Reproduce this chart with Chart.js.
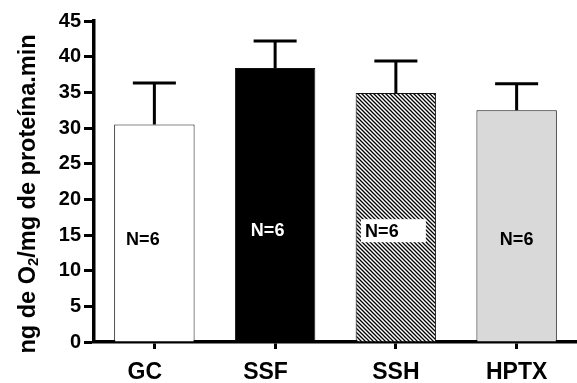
<!DOCTYPE html>
<html><head><meta charset="utf-8">
<script src="https://cdn.jsdelivr.net/npm/chart.js@4"></script>
<style>html,body{margin:0;padding:0;background:#fff}canvas{display:block}</style>
</head><body>
<canvas id="c" width="577" height="383"></canvas>
<script>
// ---- data ----
const categories = ['GC', 'SSF', 'SSH', 'HPTX'];
const means = [30.5, 38.4, 34.9, 32.5];
const sems = [5.8, 3.8, 4.5, 3.7];
const nLabels = ['N=6', 'N=6', 'N=6', 'N=6'];
const yMin = 0, yMax = 45, yStep = 5;
const yTitleParts = ['ng de O', '2', '/mg de proteína.min'];

const FONT = '"Liberation Sans", Arial, Helvetica, sans-serif';
const canvas = document.getElementById('c');
const ctx = canvas.getContext('2d');

function hatchPattern() {
  const s = 4;
  const c = document.createElement('canvas');
  c.width = s; c.height = s;
  const g = c.getContext('2d');
  g.fillStyle = '#fff'; g.fillRect(0, 0, s, s);
  g.strokeStyle = '#000'; g.lineWidth = 1.3;
  g.beginPath();
  g.moveTo(-1, -1); g.lineTo(s + 1, s + 1);
  g.moveTo(-1, s - 1); g.lineTo(1, s + 1);
  g.moveTo(s - 1, -1); g.lineTo(s + 1, 1);
  g.stroke();
  return ctx.createPattern(c, 'repeat');
}

const fills = ['#ffffff', '#000000', hatchPattern(), '#d9d9d9'];
// trailing non-breaking spaces nudge the first two axis labels left, as in the original
const labelPad = ['\u00a0\u00a0\u00a0', '\u00a0\u00a0\u00a0', '', ''];

const errorBarsPlugin = {
  id: 'errorBars',
  afterDatasetsDraw(chart) {
    const c = chart.ctx, meta = chart.getDatasetMeta(0), ys = chart.scales.y;
    c.save();
    c.strokeStyle = '#000'; c.lineWidth = 3; c.lineCap = 'butt';
    meta.data.forEach((bar, i) => {
      const yTop = ys.getPixelForValue(means[i] + sems[i]);
      c.beginPath();
      c.moveTo(bar.x, bar.y); c.lineTo(bar.x, yTop);
      c.moveTo(bar.x - 21.5, yTop); c.lineTo(bar.x + 21.5, yTop);
      c.stroke();
    });
    c.restore();
  }
};

const nLabelPlugin = {
  id: 'nLabels',
  afterDatasetsDraw(chart) {
    const c = chart.ctx, meta = chart.getDatasetMeta(0), ys = chart.scales.y;
    const place = [
      { dx: -11.5, v: 14.4, color: '#000', box: null },
      { dx: -7.5, v: 15.7, color: '#fff', box: null },
      { dx: -14, v: 15.6, color: '#000', box: [-21, -11.5, 65, 23] },
      { dx: 0, v: 14.4, color: '#000', box: null }
    ];
    c.save();
    c.font = 'bold 18px ' + FONT;
    c.textAlign = 'center'; c.textBaseline = 'middle';
    meta.data.forEach((bar, i) => {
      const p = place[i];
      const x = bar.x + p.dx, y = ys.getPixelForValue(p.v);
      if (p.box) {
        c.fillStyle = '#fff';
        c.fillRect(x + p.box[0], y + p.box[1], p.box[2], p.box[3]);
      }
      c.fillStyle = p.color;
      c.fillText(nLabels[i], x, y + 1);
    });
    c.restore();
  }
};

const yTitlePlugin = {
  id: 'yTitle',
  afterDraw(chart) {
    const c = chart.ctx;
    c.save();
    c.translate(29, 194);
    c.rotate(-Math.PI / 2);
    c.fillStyle = '#000';
    c.textBaseline = 'middle';
    const big = 'bold 23.5px ' + FONT, small = 'bold 15px ' + FONT;
    c.font = big; const w0 = c.measureText(yTitleParts[0]).width;
    const w2 = c.measureText(yTitleParts[2]).width;
    c.font = small; const w1 = c.measureText(yTitleParts[1]).width;
    let x = -(w0 + w1 + w2) / 2;
    c.textAlign = 'left';
    c.font = big; c.fillText(yTitleParts[0], x, 0); x += w0;
    c.font = small; c.fillText(yTitleParts[1], x, 5); x += w1;
    c.font = big; c.fillText(yTitleParts[2], x, 0);
    c.restore();
  }
};

new Chart(ctx, {
  type: 'bar',
  data: {
    labels: categories,
    datasets: [{
      data: means,
      backgroundColor: fills,
      borderColor: '#111',
      borderWidth: 1,
      barPercentage: 0.666,
      categoryPercentage: 1.0
    }]
  },
  options: {
    responsive: false,
    animation: false,
    devicePixelRatio: 1,
    layout: { padding: { top: 21, right: -4, left: 0, bottom: 0 } },
    plugins: { legend: { display: false }, tooltip: { enabled: false } },
    scales: {
      x: {
        grid: { drawOnChartArea: false, drawTicks: true, tickLength: 7, tickWidth: 3, tickColor: '#000', offset: false },
        border: { display: true, color: '#000', width: 3.5 },
        ticks: {
          color: '#000', font: { family: FONT, size: 23, weight: 'bold' }, padding: 10,
          maxRotation: 0, autoSkip: false,
          callback: (v, i) => categories[i] + labelPad[i]
        },
        afterFit(s) { s.height = 41; }
      },
      y: {
        min: yMin, max: yMax,
        grid: { drawOnChartArea: false, drawTicks: true, tickLength: 10, tickWidth: 3, tickColor: '#000' },
        border: { display: true, color: '#000', width: 3.5 },
        ticks: { stepSize: yStep, color: '#000', font: { family: FONT, size: 20, weight: 'bold' }, padding: 3 },
        afterFit(s) { s.width = 94; }
      }
    }
  },
  plugins: [errorBarsPlugin, nLabelPlugin, yTitlePlugin]
});
</script>
</body></html>
